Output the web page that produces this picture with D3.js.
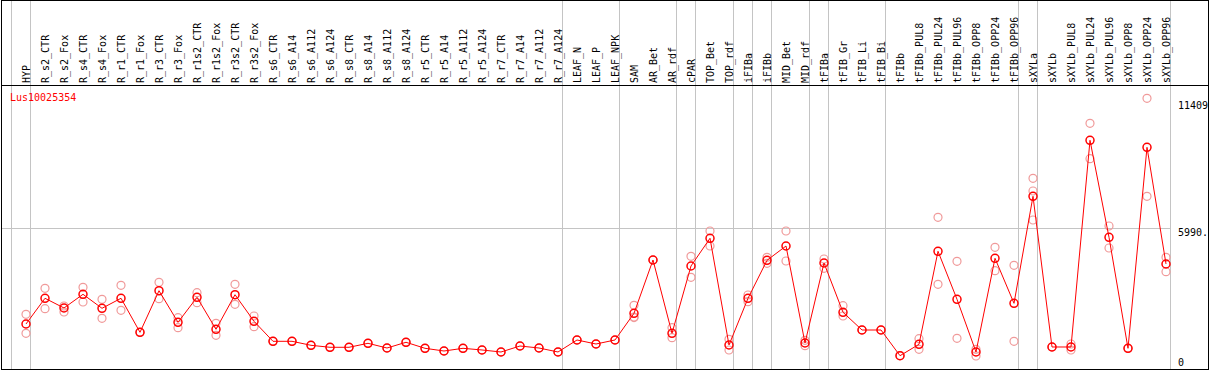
<!DOCTYPE html>
<html lang="en">
<head>
    <meta charset="UTF-8">
    <title>Lus10025354 expression</title>
    <style>
        body { margin: 0; background: #fff; }
        svg { display: block; }
        text { font-family: 'DejaVu Sans Mono', monospace; font-size: 10px; }
    </style>
</head>
<body>
    <svg width="1209" height="370"></svg>
    <script src="https://d3js.org/d3.v7.min.js"></script>
    <script>
        // Sample names (one column each)
        var samples = ["HYP",
            "R_s2_CTR", "R_s2_Fox", "R_s4_CTR", "R_s4_Fox", "R_r1_CTR", "R_r1_Fox",
            "R_r3_CTR", "R_r3_Fox", "R_r1s2_CTR", "R_r1s2_Fox", "R_r3s2_CTR", "R_r3s2_Fox",
            "R_s6_CTR", "R_s6_A14", "R_s6_A112", "R_s6_A124", "R_s8_CTR", "R_s8_A14", "R_s8_A112", "R_s8_A124",
            "R_r5_CTR", "R_r5_A14", "R_r5_A112", "R_r5_A124", "R_r7_CTR", "R_r7_A14", "R_r7_A112", "R_r7_A124",
            "LEAF_N", "LEAF_P", "LEAF_NPK", "SAM", "AR_Bet", "AR_rdf", "cPAR", "TOP_Bet", "TOP_rdf",
            "iFIBa", "iFIBb", "MID_Bet", "MID_rdf", "tFIBa", "tFIB_Gr", "tFIB_Li", "tFIB_Bi", "tFIBb",
            "tFIBb_PUL8", "tFIBb_PUL24", "tFIBb_PUL96", "tFIBb_OPP8", "tFIBb_OPP24", "tFIBb_OPP96",
            "sXYLa", "sXYLb", "sXYLb_PUL8", "sXYLb_PUL24", "sXYLb_PUL96", "sXYLb_OPP8", "sXYLb_OPP24", "sXYLb_OPP96"];

        // Mean expression per sample
        var means = [1916,
            3010, 2597, 3180, 2584, 3010, 1562,
            3333, 1988, 3052, 1690, 3163, 2031,
            1179, 1179, 1009, 924, 924, 1094, 894, 1137,
            881, 766, 881, 809, 724, 979, 894, 724,
            1235, 1064, 1235, 2371, 4640, 1520, 4385, 5564, 1022,
            3010, 4627, 5236, 1107, 4513, 2414, 1660, 1660, 566,
            1051, 5011, 2967, 724, 4713, 2797,
            7352, 937, 937, 9736, 5607, 881, 9438, 4470];

        // Replicate values per sample
        var replicates = [[2329, 1520],
            [3435, 2567], [2682, 2427], [3478, 2852], [2967, 2158], [3563, 2499], [1562],
            [3691, 2993], [2184, 1758], [3248, 2822], [1946, 1435], [3606, 2754], [2256, 1801],
            [1179], [1179], [1009], [924], [924], [1094], [894], [1137],
            [881], [766], [881], [809], [724], [979], [894], [724],
            [1235], [1064], [1235], [2712, 2214, 2190], [4640], [1758, 1332], [4798, 3904], [5875, 5236], [1264, 809],
            [3150, 2865], [4755, 4500], [5875, 4598], [1220, 992], [4683, 4287], [2695, 2256], [1660], [1660], [566],
            [1290, 839], [6458, 3606], [4585, 1307], [839, 553], [5181, 4185], [4415, 1179],
            [8118, 7578, 6343], [937], [1064, 809], [10460, 8953], [6088, 5151], [881], [11524, 7352], [4755, 4142]];

        // Group boundaries: a separator follows these column indices
        var groupEnds = [-1, 0, 28, 31, 34, 35, 37, 38, 39, 41, 42, 45, 52, 53, 60];

        // Right-hand value labels
        var tickValues = [0, 5990, 11409];
        var tickLabels = ["0", "5990.", "11409"];
        var gridValues = [5990];
        var geneName = "Lus10025354";

        var svg = d3.select("svg"),
            W = +svg.attr("width"),
            H = +svg.attr("height"),
            headerY = 85,
            plotBottom = 369;

        var x = d3.scalePoint().domain(d3.range(samples.length)).range([26, 1166]);
        var step = x.step();
        var y = d3.scaleLinear().domain([0, 11409]).range([plotBottom, 101]);

        // gray grid lines
        svg.selectAll(".sep")
            .data(groupEnds)
            .enter().append("line")
            .attr("x1", function(d) { return (d < 0 ? x(0) - step : x(d)) + 4.5; })
            .attr("x2", function(d) { return (d < 0 ? x(0) - step : x(d)) + 4.5; })
            .attr("y1", 0)
            .attr("y2", plotBottom)
            .attr("stroke", "#c4c4c4")
            .attr("stroke-width", 1)
            .attr("shape-rendering", "crispEdges");

        svg.selectAll(".grid")
            .data(gridValues)
            .enter().append("line")
            .attr("x1", 1)
            .attr("x2", x(samples.length - 1) + 4.5)
            .attr("y1", function(d) { return Math.round(y(d)) + 0.5; })
            .attr("y2", function(d) { return Math.round(y(d)) + 0.5; })
            .attr("stroke", "#c4c4c4")
            .attr("shape-rendering", "crispEdges");

        // frame and header line
        svg.append("rect")
            .attr("x", 1.5).attr("y", 0.5)
            .attr("width", W - 2).attr("height", plotBottom)
            .attr("fill", "none")
            .attr("stroke", "#000")
            .attr("shape-rendering", "crispEdges");

        svg.append("line")
            .attr("x1", 1).attr("x2", W)
            .attr("y1", headerY + 0.5).attr("y2", headerY + 0.5)
            .attr("stroke", "#000")
            .attr("shape-rendering", "crispEdges");

        // column labels, rotated
        svg.selectAll(".lab")
            .data(samples)
            .enter().append("text")
            .attr("transform", function(d, i) { return "translate(" + (x(i) + 4) + "," + (headerY - 2) + ") rotate(-90)"; })
            .attr("fill", "#000")
            .text(function(d) { return d; });

        // value labels on the right
        svg.selectAll(".tick")
            .data(tickValues)
            .enter().append("text")
            .attr("x", 1178)
            .attr("y", function(d) { return Math.min(y(d) + 8, 366); })
            .attr("fill", "#000")
            .text(function(d, i) { return tickLabels[i]; });

        svg.append("text")
            .attr("x", 10)
            .attr("y", 101)
            .attr("fill", "#ff0000")
            .text(geneName);

        // replicate circles
        var repPts = [];
        replicates.forEach(function(r, i) {
            r.forEach(function(v) { repPts.push({i: i, v: v}); });
        });

        svg.selectAll(".rep")
            .data(repPts)
            .enter().append("circle")
            .attr("cx", function(d) { return x(d.i); })
            .attr("cy", function(d) { return y(d.v); })
            .attr("r", 4)
            .attr("fill", "none")
            .attr("stroke", "#f09a9a")
            .attr("stroke-width", 1.2);

        // mean line
        var line = d3.line()
            .x(function(d, i) { return x(i); })
            .y(function(d) { return y(d); });

        svg.append("path")
            .datum(means)
            .attr("fill", "none")
            .attr("stroke", "#ff0000")
            .attr("stroke-width", 1)
            .attr("d", line);

        svg.selectAll(".mean")
            .data(means)
            .enter().append("circle")
            .attr("cx", function(d, i) { return x(i); })
            .attr("cy", function(d) { return y(d); })
            .attr("r", 4)
            .attr("fill", "none")
            .attr("stroke", "#ff0000")
            .attr("stroke-width", 1.5);
    </script>
</body>
</html>
